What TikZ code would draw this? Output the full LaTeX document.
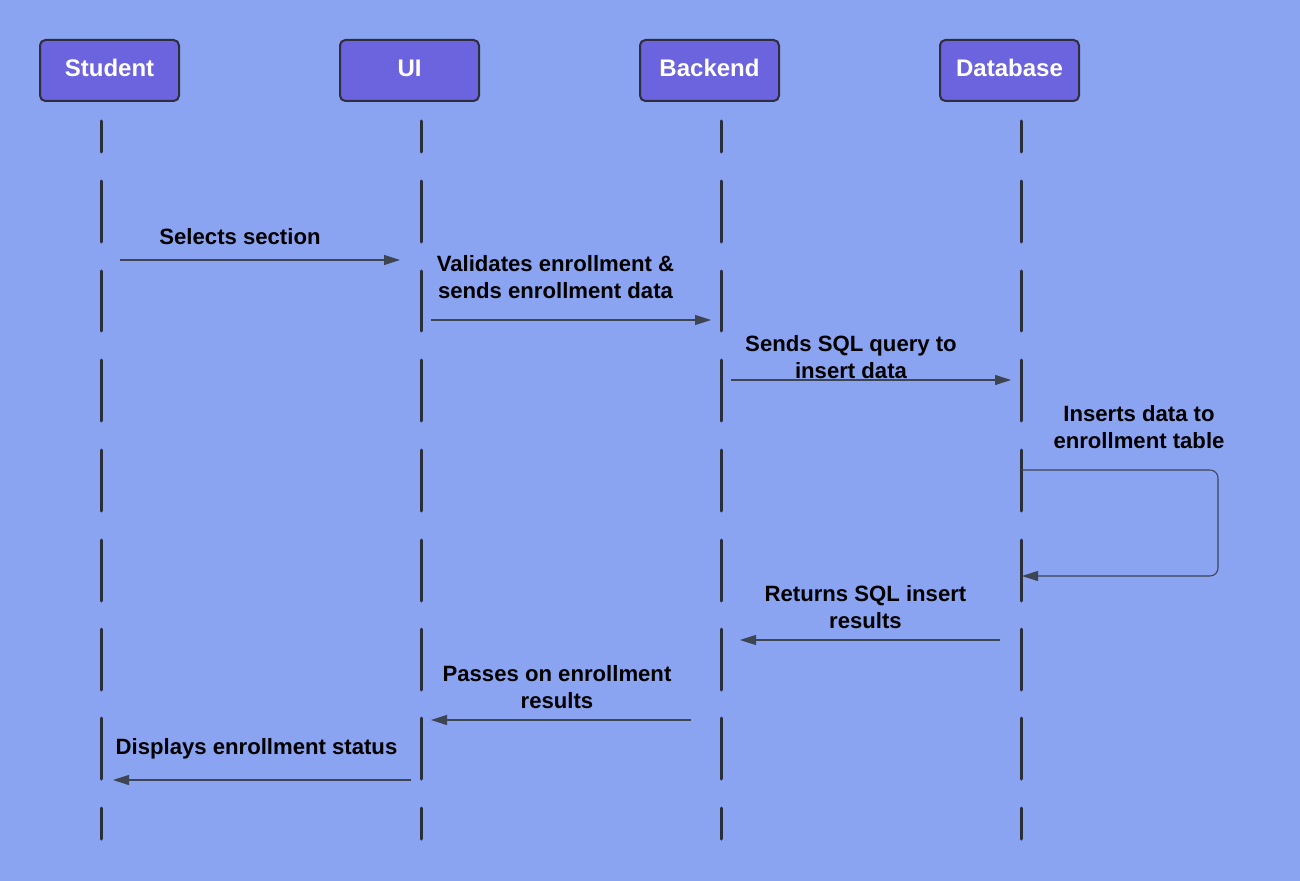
\documentclass[tikz,border=0pt]{standalone}
\usepackage{fontspec}
\setmainfont{Liberation Sans}
\usetikzlibrary{arrows.meta}
\definecolor{bg}{HTML}{8AA4F2}
\definecolor{boxfill}{HTML}{6C63DE}
\definecolor{boxline}{HTML}{2E2E3C}
\definecolor{life}{HTML}{2B2F3A}
\definecolor{msg}{HTML}{3D4452}
\begin{document}
\begin{tikzpicture}[x=0.75pt,y=-0.75pt,
  actor/.style={draw=boxline, line width=1.5pt, fill=boxfill, rounded corners=4pt,
    minimum width=104.25pt, minimum height=45.75pt, text=white, inner sep=0pt,
    text height=13.5pt, text depth=4.2pt,
    font=\fontsize{18}{22}\selectfont\bfseries},
  lifeline/.style={draw=life, line width=2.25pt, line cap=round},
  message/.style={draw=msg, line width=0.8pt, -{Triangle[length=12pt,width=7.5pt]}},
  msglabel/.style={font=\fontsize{16.6}{20.25}\selectfont\bfseries, text=black,
    align=center, inner sep=0pt, anchor=base}
]
\fill[bg] (0,0) rectangle (1300,881);
\useasboundingbox (0,0) rectangle (1300,881);

% actors
\node[actor] (student)  at (109.5,70.5) {Student};
\node[actor] (ui)       at (409.5,70.5) {UI};
\node[actor] (backend)  at (709.5,70.5) {Backend};
\node[actor] (database) at (1009.5,70.5) {Database};

% lifelines
\foreach \x in {101,421,721,1021}{
  \foreach \a/\b in {121/152,181/242,271/331,360/421,450/511,540/601,629/690,718/779,808/839}{
    \draw[lifeline] (\x,\a) -- (\x,\b);
  }
}

% message end points
\coordinate (m1s) at (120,260);  \coordinate (m1e) at (400,260);
\coordinate (m2s) at (431,320);  \coordinate (m2e) at (711,320);
\coordinate (m3s) at (731,380);  \coordinate (m3e) at (1011,380);
\coordinate (m4s) at (1021,470); \coordinate (m4c1) at (1218,470);
\coordinate (m4c2) at (1218,576); \coordinate (m4e) at (1022,576);
\coordinate (m5s) at (1000,640); \coordinate (m5e) at (740,640);
\coordinate (m6s) at (691,720);  \coordinate (m6e) at (431,720);
\coordinate (m7s) at (411,780);  \coordinate (m7e) at (113,780);

% messages
\draw[message] (m1s) -- (m1e);
\draw[message] (m2s) -- (m2e);
\draw[message] (m3s) -- (m3e);
\draw[message, rounded corners=6pt] (m4s) -- (m4c1) -- (m4c2) -- (m4e);
\draw[message] (m5s) -- (m5e);
\draw[message] (m6s) -- (m6e);
\draw[message] (m7s) -- (m7e);

% labels (base = baseline of last line)
\node[msglabel] (l1) at (240,244) {Selects section};
\node[msglabel] (l2) at (555.5,298) {Validates enrollment \&\\sends enrollment data};
\node[msglabel] (l3) at (851,378) {Sends SQL query to\\insert data};
\node[msglabel] (l4) at (1139,448) {Inserts data to\\enrollment table};
\node[msglabel] (l5) at (865.5,628) {Returns SQL insert\\results};
\node[msglabel] (l6) at (557,708) {Passes on enrollment\\results};
\node[msglabel] (l7) at (256.5,754) {Displays enrollment status};
\end{tikzpicture}
\end{document}
